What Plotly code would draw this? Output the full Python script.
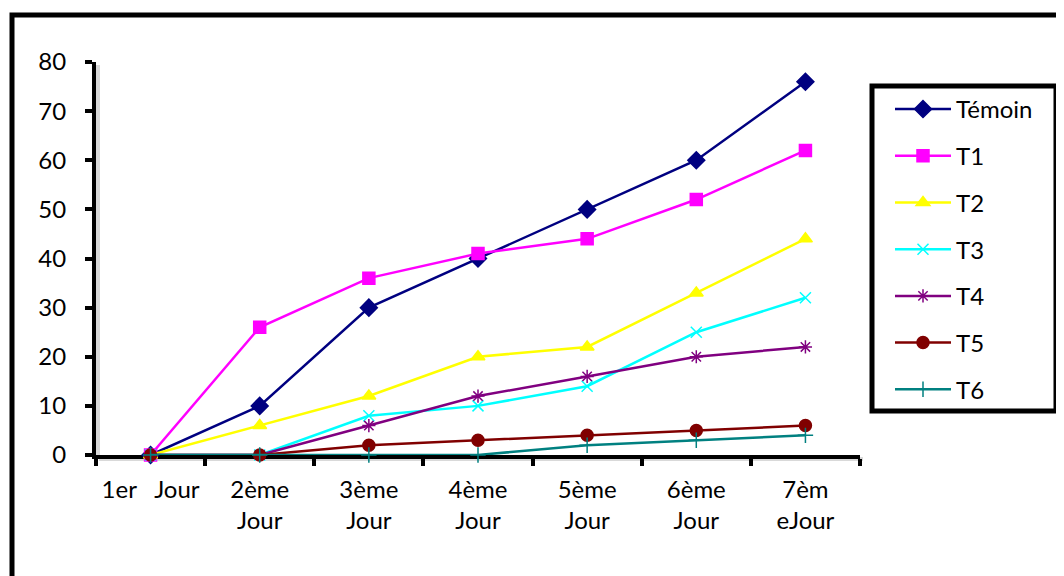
import plotly.graph_objects as go

categories = ["1er\u00a0\u00a0\u00a0Jour", "2ème<br>Jour", "3ème<br>Jour", "4ème<br>Jour",
              "5ème<br>Jour", "6ème<br>Jour", "7èm<br>eJour"]
temoin = [0, 10, 30, 40, 50, 60, 76]
t1 = [0, 26, 36, 41, 44, 52, 62]
t2 = [0, 6, 12, 20, 22, 33, 44]
t3 = [0, 0, 8, 10, 14, 25, 32]
t4 = [0, 0, 6, 12, 16, 20, 22]
t5 = [0, 0, 2, 3, 4, 5, 6]
t6 = [0, 0, 0, 0, 2, 3, 4]
y_ticks = [0, 10, 20, 30, 40, 50, 60, 70, 80]

series = [
    ("Témoin", temoin, "#000080", "diamond", 13),
    ("T1", t1, "#FF00FF", "square", 12),
    ("T2", t2, "#FFFF00", "triangle-up", 12),
    ("T3", t3, "#00FFFF", "x-thin-open", 11),
    ("T4", t4, "#800080", "asterisk-open", 11),
    ("T5", t5, "#800000", "circle", 12),
    ("T6", t6, "#008080", "cross-thin-open", 11),
]

W, H = 1064, 576
OFF = 8  # page body margin
# plot area in page pixels
L, R, T, B = 96, 860, 62, 455

def px(x):
    return (x - L) / (R - L)

def py(y):
    return (B - y) / (B - T)

fig = go.Figure()
for name, vals, col, sym, size in series:
    fig.add_trace(go.Scatter(
        x=categories, y=vals, name=name, mode="lines+markers",
        line=dict(color=col, width=2.5),
        marker=dict(symbol=sym, size=size, color=col, line=dict(color=col, width=1.5)),
        legendgroup=name, cliponaxis=False,
    ))

font = dict(family="Lato, 'Open Sans', sans-serif", size=24, color="#000000")

shapes = [
    # axis shadows
    dict(type="line", xref="paper", yref="paper", x0=px(L + 2), y0=py(T + 3), x1=px(L + 2), y1=py(B + 3),
         line=dict(color="rgba(0,0,0,0.15)", width=4), layer="below"),
    dict(type="line", xref="paper", yref="paper", x0=px(L + 3), y0=py(B + 4), x1=px(R + 3), y1=py(B + 4),
         line=dict(color="rgba(0,0,0,0.15)", width=4), layer="below"),
    # outer chart border (extends past the window on the right and bottom)
    dict(type="rect", xref="paper", yref="paper", x0=px(12), y0=py(15), x1=px(1120), y1=py(640),
         line=dict(color="black", width=5), fillcolor="rgba(0,0,0,0)", layer="below"),
    # legend box
    dict(type="rect", xref="paper", yref="paper", x0=px(872), y0=py(86), x1=px(1056), y1=py(411),
         line=dict(color="black", width=5), fillcolor="rgba(0,0,0,0)", layer="above"),
]

fig.update_layout(
    width=W, height=H,
    margin=dict(l=L - OFF, r=W - (R - OFF), t=T - OFF, b=H - (B - OFF), pad=0),
    paper_bgcolor="white", plot_bgcolor="white",
    font=font,
    showlegend=True,
    legend=dict(
        x=px(890), y=py(87), xanchor="left", yanchor="top",
        bgcolor="rgba(0,0,0,0)", borderwidth=0,
        font=font, itemwidth=56, tracegroupgap=12.5,
    ),
    shapes=shapes,
    xaxis=dict(
        type="category", range=[-0.5, 6.5],
        showgrid=False, zeroline=False,
        showline=True, linecolor="black", linewidth=4,
        ticks="outside", tickson="boundaries", ticklen=7, tickwidth=4, tickcolor="black",
        tickfont=font, tickangle=0, layer="below traces", ticklabelstandoff=10,
    ),
    yaxis=dict(
        range=[0, 80], tickvals=y_ticks,
        showgrid=False, zeroline=False,
        showline=True, linecolor="black", linewidth=4,
        ticks="outside", ticklen=7, tickwidth=4, tickcolor="black",
        tickfont=font, layer="below traces", ticklabelstandoff=14,
    ),
)

fig.write_html("out.html")
